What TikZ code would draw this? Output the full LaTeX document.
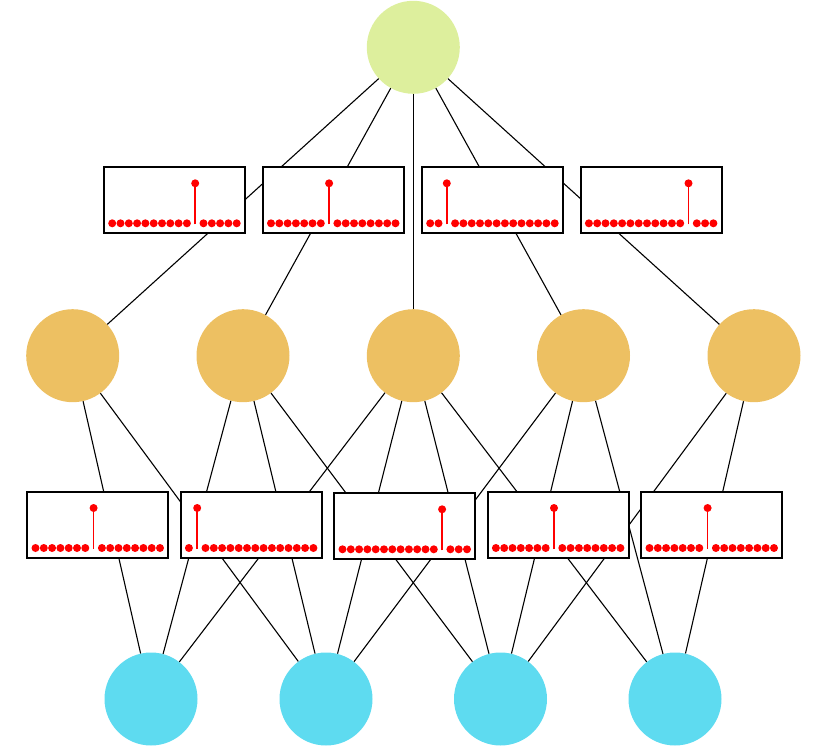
\documentclass[tikz,border=0pt]{standalone}
\definecolor{topc}{HTML}{DDEF9D}
\definecolor{midc}{HTML}{EDC062}
\definecolor{botc}{HTML}{5EDBF0}
\begin{document}
\begin{tikzpicture}[x=1pt,y=-1pt,
  neuron/.style={circle,minimum size=93pt,inner sep=0pt,draw=none},
  edge/.style={draw=black,line width=1.1pt},
  filt/.style={draw=black,line width=1.7pt,fill=white,minimum width=141pt,minimum height=66pt,inner sep=0pt},
  spikeline/.style={draw=red,line width=1.6pt}]
\useasboundingbox (0,0) rectangle (831,746);
% neurons
\node[neuron,fill=topc] (t) at (413.3,47.3) {};
\foreach \i/\x in {1/72.7,2/243,3/413.3,4/583.5,5/754}
  \node[neuron,fill=midc] (m\i) at (\x,355.7) {};
\foreach \i/\x in {1/151,2/326,3/500.5,4/675}
  \node[neuron,fill=botc] (b\i) at (\x,699) {};
% edges
\foreach \i in {1,...,5} \draw[edge] (t) -- (m\i);
\foreach \a/\b in {1/1,1/2,2/1,2/2,2/3,3/1,3/2,3/3,3/4,4/2,4/3,4/4,5/3,5/4}
  \draw[edge] (m\a) -- (b\b);
% filter boxes
\foreach \n/\x/\y/\s in {f1/174.5/200.3/10,f2/333.3/200.3/7,f3/492.5/200.3/2,f4/651.2/200.3/12,
                        g1/97.8/525/7,g2/251.2/525/1,g3/404.8/526.3/12,g4/558.2/525/7,g5/711.8/525/7} {
  \node[filt] (\n) at (\x,\y) {};
  \foreach \k in {0,...,15} {
    \pgfmathsetmacro\dx{-62.3+8.3*\k}
    \ifnum\k=\s
      \draw[spikeline] ([shift={(\dx,24)}]\n.center) -- ([shift={(\dx,-17)}]\n.center);
      \fill[red] ([shift={(\dx,-17)}]\n.center) circle[radius=4pt];
    \else
      \fill[red] ([shift={(\dx,23)}]\n.center) circle[radius=4pt];
    \fi
  }
}
\end{tikzpicture}
\end{document}
